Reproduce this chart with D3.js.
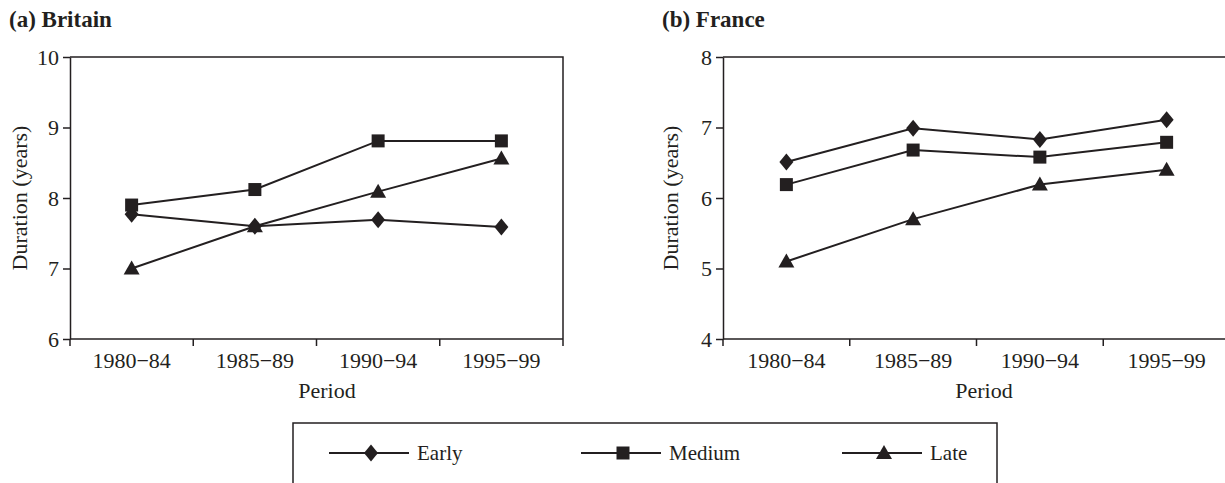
<!DOCTYPE html>
<head>
<meta charset="utf-8">
<script src="https://d3js.org/d3.v7.min.js"></script>
<style>
    body { margin: 0; background: #fff; }
    text { font-family: "Liberation Serif", "Times New Roman", serif; fill: #231f20; }
    .frame, .domain, .tick line { stroke: #231f20; }
</style>
</head>
<body>
<svg></svg>
<script>
    var width = 1225;
    var height = 483;

    // chart values
    var periods = ["1980\u221284", "1985\u221289", "1990\u221294", "1995\u221299"];
    var seriesNames = ["Early", "Medium", "Late"];

    var britainEarly  = [7.77, 7.60, 7.69, 7.59];
    var britainMedium = [7.90, 8.12, 8.81, 8.81];
    var britainLate   = [7.00, 7.60, 8.09, 8.56];

    var franceEarly  = [6.51, 6.99, 6.83, 7.11];
    var franceMedium = [6.19, 6.68, 6.58, 6.79];
    var franceLate   = [5.10, 5.70, 6.19, 6.40];

    var britainTicks = [6, 7, 8, 9, 10];
    var franceTicks  = [4, 5, 6, 7, 8];

    var ink = "#231f20";

    var svg = d3.select("svg")
        .attr("width", width)
        .attr("height", height);

    // marker shapes: diamond, square, triangle
    var shapes = {
        Early: { draw: function(c) { c.moveTo(0, -8.5); c.lineTo(7, 0); c.lineTo(0, 8.5); c.lineTo(-7, 0); c.closePath(); } },
        Medium: { draw: function(c) { c.rect(-6.5, -6.5, 13, 13); } },
        Late: { draw: function(c) { c.moveTo(0, -8); c.lineTo(8, 6); c.lineTo(-8, 6); c.closePath(); } }
    };

    function panel(opts) {
        var g = svg.append("g");

        var x = d3.scaleBand().domain(periods).range([opts.x0, opts.x1]);
        var y = d3.scaleLinear().domain(opts.domain).range([339, 57]);

        // frame: top and right sides
        g.append("path")
            .attr("class", "frame")
            .attr("d", "M" + opts.x0 + ",57H" + opts.x1 + "V339")
            .attr("fill", "none")
            .attr("stroke-width", 1.5);

        // y axis
        var yAxis = g.append("g")
            .attr("transform", "translate(" + opts.x0 + ",0)")
            .call(d3.axisLeft(y).tickValues(opts.ticks).tickSize(7).tickSizeOuter(0).tickPadding(4).tickFormat(d3.format("d")));
        yAxis.select(".domain").attr("stroke-width", 1.5);
        yAxis.selectAll(".tick line").attr("stroke-width", 1.5);
        yAxis.selectAll("text").style("font-size", "22px").attr("fill", ink);

        // x axis: ticks at band boundaries, labels in band centres
        var xg = g.append("g").attr("transform", "translate(0,339)");
        xg.append("line")
            .attr("x1", opts.x0).attr("x2", opts.x1)
            .attr("stroke", ink).attr("stroke-width", 1.5);
        var bounds = periods.map(function(p) { return x(p); }).concat([x.range()[1]]);
        xg.selectAll(".bt").data(bounds).enter().append("line")
            .attr("x1", function(d) { return d; }).attr("x2", function(d) { return d; })
            .attr("y1", 0).attr("y2", 7)
            .attr("stroke", ink).attr("stroke-width", 1.5);
        xg.selectAll(".lab").data(periods).enter().append("text")
            .attr("x", function(d) { return x(d) + x.bandwidth() / 2; })
            .attr("y", 29)
            .attr("text-anchor", "middle")
            .style("font-size", "22px")
            .text(function(d) { return d; });

        // axis titles
        g.append("text")
            .attr("x", opts.periodX).attr("y", 398)
            .attr("text-anchor", "middle")
            .style("font-size", "22px")
            .text("Period");
        g.append("text")
            .attr("transform", "translate(" + opts.ylabX + ",198) rotate(-90)")
            .attr("text-anchor", "middle")
            .style("font-size", "22px")
            .text("Duration (years)");

        // panel title
        g.append("text")
            .attr("x", opts.titleX).attr("y", 27)
            .style("font-size", "23px")
            .style("font-weight", "bold")
            .text(opts.title);

        var line = d3.line()
            .x(function(d, i) { return x(periods[i]) + x.bandwidth() / 2; })
            .y(function(d) { return y(d); });

        opts.series.forEach(function(vals, k) {
            var name = seriesNames[k];
            g.append("path")
                .datum(vals)
                .attr("d", line)
                .attr("fill", "none")
                .attr("stroke", ink)
                .attr("stroke-width", 2);
            g.selectAll(".m" + k).data(vals).enter().append("path")
                .attr("transform", function(d, i) {
                    return "translate(" + (x(periods[i]) + x.bandwidth() / 2) + "," + y(d) + ")";
                })
                .attr("d", d3.symbol().type(shapes[name]))
                .attr("fill", ink);
        });
    }

    panel({
        title: "(a) Britain", titleX: 9,
        x0: 70, x1: 563, domain: [6, 10], ticks: britainTicks,
        ylabX: 27, periodX: 327,
        series: [britainEarly, britainMedium, britainLate]
    });

    panel({
        title: "(b) France", titleX: 662,
        x0: 723, x1: 1230, domain: [4, 8], ticks: franceTicks,
        ylabX: 678, periodX: 984,
        series: [franceEarly, franceMedium, franceLate]
    });

    // legend
    var legend = svg.append("g");
    legend.append("rect")
        .attr("x", 293).attr("y", 423)
        .attr("width", 704).attr("height", 90)
        .attr("fill", "none")
        .attr("stroke", ink)
        .attr("stroke-width", 1.5);

    var legendX = [329, 581, 842];
    seriesNames.forEach(function(name, k) {
        var lx = legendX[k];
        legend.append("line")
            .attr("x1", lx).attr("x2", lx + 80)
            .attr("y1", 453).attr("y2", 453)
            .attr("stroke", ink).attr("stroke-width", 2);
        legend.append("path")
            .attr("transform", "translate(" + (lx + 42) + ",453)")
            .attr("d", d3.symbol().type(shapes[name]))
            .attr("fill", ink);
        legend.append("text")
            .attr("x", lx + 88).attr("y", 460)
            .style("font-size", "21px")
            .text(name);
    });
</script>
</body>
